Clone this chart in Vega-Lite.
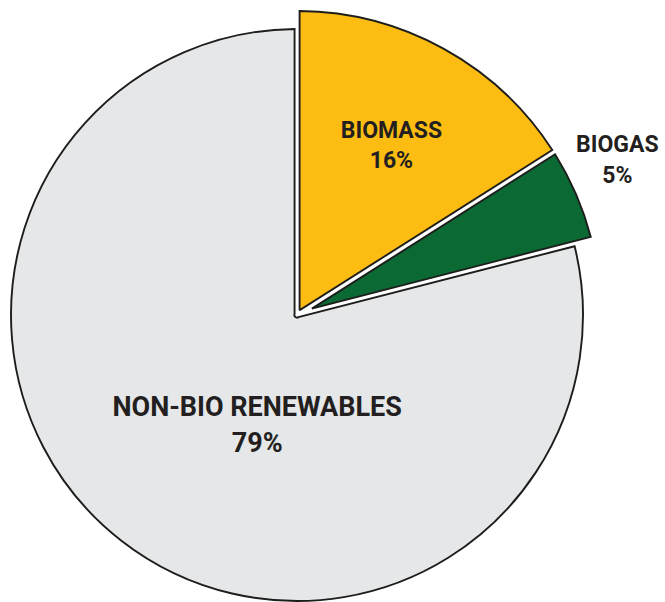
{
  "$schema": "https://vega.github.io/schema/vega-lite/v6.json",
  "width": 594,
  "height": 594,
  "autosize": {"type": "none"},
  "padding": {"left": 0, "top": 18, "right": 71, "bottom": 0},
  "background": "white",
  "view": {"stroke": null},
  "data": {
    "values": [
      {"source": "BIOMASS", "share": 0.16, "rank": 1},
      {"source": "BIOGAS", "share": 0.05, "rank": 2},
      {"source": "NON-BIO RENEWABLES", "share": 0.79, "rank": 3}
    ]
  },
  "encoding": {
    "theta": {"field": "share", "type": "quantitative", "stack": true},
    "order": {"field": "rank", "type": "quantitative"},
    "detail": {"field": "source", "type": "nominal"}
  },
  "layer": [
    {
      "mark": {"type": "arc", "padAngle": 0.017, "stroke": "#1d1d1b", "strokeWidth": 1.9},
      "encoding": {
        "color": {
          "field": "source",
          "type": "nominal",
          "scale": {
            "domain": ["BIOMASS", "BIOGAS", "NON-BIO RENEWABLES"],
            "range": ["#fcbc12", "#0b6a34", "#e6e7e9"]
          },
          "legend": null
        },
        "radius": {"value": {"expr": "datum.source === 'NON-BIO RENEWABLES' ? 286 : 304"}},
        "radius2": {"value": {"expr": "datum.source === 'BIOMASS' ? 6 : datum.source === 'BIOGAS' ? 17 : 2.6"}}
      }
    },
    {
      "mark": {"type": "text", "radius": 196, "dy": -5, "align": "center", "baseline": "alphabetic", "font": "Roboto", "fontWeight": "bold", "fontSize": 23, "fill": "#231f20"},
      "encoding": {
        "text": {"condition": {"test": "datum.source === 'BIOMASS'", "field": "source", "type": "nominal"}, "value": ""}
      }
    },
    {
      "mark": {"type": "text", "radius": 196, "dy": 25, "align": "center", "baseline": "alphabetic", "font": "Roboto", "fontWeight": "bold", "fontSize": 23, "fill": "#231f20"},
      "encoding": {
        "text": {"condition": {"test": "datum.source === 'BIOMASS'", "field": "share", "type": "quantitative", "format": ".0%"}, "value": ""}
      }
    },
    {
      "mark": {"type": "text", "radius": 349, "dy": -24.5, "align": "center", "baseline": "alphabetic", "font": "Roboto", "fontWeight": "bold", "fontSize": 23, "fill": "#231f20"},
      "encoding": {
        "text": {"condition": {"test": "datum.source === 'BIOGAS'", "field": "source", "type": "nominal"}, "value": ""}
      }
    },
    {
      "mark": {"type": "text", "radius": 349, "dy": 6.5, "align": "center", "baseline": "alphabetic", "font": "Roboto", "fontWeight": "bold", "fontSize": 23, "fill": "#231f20"},
      "encoding": {
        "text": {"condition": {"test": "datum.source === 'BIOGAS'", "field": "share", "type": "quantitative", "format": ".0%"}, "value": ""}
      }
    },
    {
      "mark": {"type": "text", "radius": 65, "dy": 50, "align": "center", "baseline": "alphabetic", "font": "Roboto", "fontWeight": "bold", "fontSize": 27, "fill": "#231f20"},
      "encoding": {
        "text": {"condition": {"test": "datum.source === 'NON-BIO RENEWABLES'", "field": "source", "type": "nominal"}, "value": ""}
      }
    },
    {
      "mark": {"type": "text", "radius": 65, "dy": 86, "align": "center", "baseline": "alphabetic", "font": "Roboto", "fontWeight": "bold", "fontSize": 27, "fill": "#231f20"},
      "encoding": {
        "text": {"condition": {"test": "datum.source === 'NON-BIO RENEWABLES'", "field": "share", "type": "quantitative", "format": ".0%"}, "value": ""}
      }
    }
  ]
}
